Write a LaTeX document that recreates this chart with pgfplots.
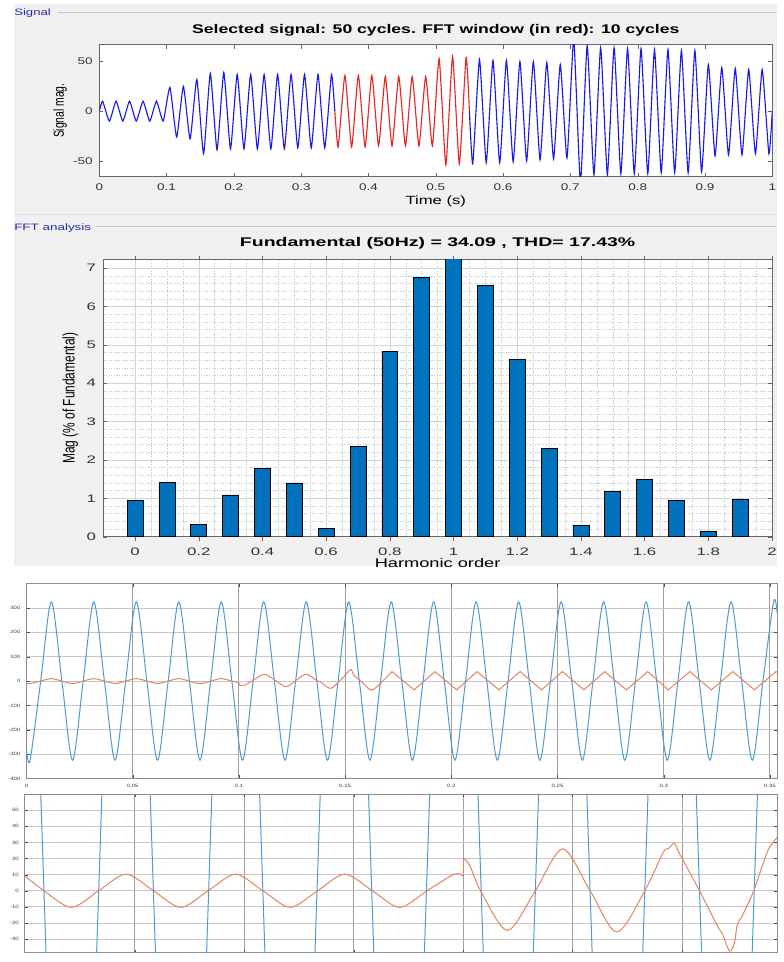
\documentclass[border=0pt]{standalone}
\usepackage{fontspec}
\setmainfont{Liberation Sans}
\usepackage{pgfplots}
\pgfplotsset{compat=1.18}
\definecolor{mgrey}{RGB}{240,240,240}
\definecolor{barblue}{RGB}{0,114,189}
\definecolor{sigblue}{RGB}{25,25,235}
\definecolor{sigred}{RGB}{235,35,35}
\definecolor{lblue}{RGB}{75,155,210}
\definecolor{lorange}{RGB}{228,132,92}
\definecolor{labblue}{RGB}{40,40,170}
\pgfplotsset{mat/.style={scale only axis, anchor=south west,
  axis background/.style={fill=white}, tick align=inside,
  /pgf/number format/assume math mode=true,
  axis line style={black!60}, tick style={black!60}}}
\begin{document}
\begin{tikzpicture}
\fill[white] (0pt,0pt) rectangle (587.25pt,-721.5pt);
\fill[mgrey] (10.5pt,-3pt) rectangle (587.25pt,-428pt);
\draw[black!12, line width=0.6pt] (10.5pt,-161.8pt) -- (587.25pt,-161.8pt);
\node[anchor=base west, inner sep=0, text=labblue, font=\fontsize{7}{8}\selectfont, xscale=1.42] at (10.5pt,-12pt) {Signal};
\draw[black!22] (43.5pt,-9.5pt) -- (587.25pt,-9.5pt);
\node[anchor=base west, inner sep=0, text=labblue, font=\fontsize{7}{8}\selectfont, xscale=1.45] at (10.5pt,-173.8pt) {FFT analysis};
\draw[black!22] (72.5pt,-171.2pt) -- (587.25pt,-171.2pt);

% ---------------- Panel 1: signal
\begin{axis}[mat, at={(75pt,-133.5pt)}, width=508.5pt, height=99.75pt,
  xmin=0, xmax=1, ymin=-66, ymax=67,
  xtick={0,0.1,0.2,0.3,0.4,0.5,0.6,0.7,0.8,0.9,1},
  xticklabels={0,0.1,0.2,0.3,0.4,0.5,0.6,0.7,0.8,0.9,1},
  ytick={-50,0,50}, yticklabels={-50,0,50},
  major tick length=3pt,
  tick label style={font=\fontsize{7.3}{8}\selectfont, text=black!80, xscale=1.4},
  xticklabel style={anchor=base, yshift=-10.3pt},
  title={Selected signal: 50 cycles. FFT window (in red): 10 cycles},
  title style={font=\bfseries\fontsize{9.5}{11}\selectfont, xscale=1.4, at={(axis description cs:0.5,1)}, anchor=base, yshift=2.5pt, inner sep=0},
  xlabel={Time (s)},
  xlabel style={font=\fontsize{9}{10}\selectfont, xscale=1.4, at={(axis description cs:0.5,0)}, anchor=base, yshift=-20.8pt, inner sep=0},
  ylabel={\scalebox{1}[1.4]{Signal mag.}},
  ylabel style={font=\fontsize{7.8}{9}\selectfont, at={(axis description cs:-0.058,0.5)}, anchor=center, inner sep=0}]
\addplot[sigblue, line width=0.85pt, smooth, tension=0.3] coordinates {
(0,0) (0.005,10) (0.015,-10) (0.025,10) (0.035,-10) (0.045,10) (0.055,-10) (0.065,10) (0.075,-10) (0.085,10) (0.095,-10)
(0.105,24) (0.115,-26) (0.125,25) (0.135,-28) (0.145,32) (0.155,-43) (0.165,38) (0.175,-39) (0.185,39) (0.195,-38)
(0.205,37) (0.215,-38) (0.225,37) (0.235,-38) (0.245,37) (0.255,-38) (0.265,37) (0.275,-38) (0.285,37) (0.295,-37)
(0.305,37) (0.315,-37) (0.325,37) (0.335,-37) (0.345,37) (0.35,0)};
\addplot[sigred, line width=0.85pt, smooth, tension=0.3] coordinates {
(0.35,0) (0.355,-36) (0.365,36) (0.375,-36) (0.385,36) (0.395,-36) (0.405,36) (0.415,-35) (0.425,35) (0.435,-35)
(0.445,35) (0.455,-35) (0.465,35) (0.475,-35) (0.485,35) (0.495,-35) (0.505,53) (0.515,-54) (0.525,55) (0.535,-53)
(0.545,54) (0.55,0)};
\addplot[sigblue, line width=0.85pt, smooth, tension=0.3] coordinates {
(0.55,0) (0.555,-53) (0.565,52) (0.575,-52) (0.585,51) (0.595,-52) (0.605,51) (0.615,-51) (0.625,50) (0.635,-50)
(0.645,50) (0.655,-49) (0.665,49) (0.675,-48) (0.685,47) (0.695,-47) (0.705,72) (0.715,-72) (0.725,66) (0.735,-64)
(0.745,64) (0.755,-64) (0.765,64) (0.775,-63) (0.785,63) (0.795,-63) (0.805,63) (0.815,-63) (0.825,62) (0.835,-62)
(0.845,62) (0.855,-62) (0.865,61) (0.875,-62) (0.885,61) (0.895,-61) (0.905,47) (0.915,-45) (0.925,44) (0.935,-44)
(0.945,43) (0.955,-44) (0.965,42) (0.975,-43) (0.985,42) (0.995,-43) (1,0)};
\end{axis}

% ---------------- Panel 2: FFT
\begin{axis}[mat, at={(78pt,-405.5pt)}, width=505.3pt, height=209.25pt,
  xmin=-0.1, xmax=2, ymin=0, ymax=7.22,
  xtick={0,0.2,0.4,0.6,0.8,1,1.2,1.4,1.6,1.8,2},
  xticklabels={0,0.2,0.4,0.6,0.8,1,1.2,1.4,1.6,1.8,2},
  ytick={0,1,2,3,4,5,6,7}, yticklabels={0,1,2,3,4,5,6,7},
  minor x tick num=3, minor y tick num=4, grid=both,
  major grid style={black!17}, minor grid style={black!20, dash pattern=on 1pt off 1pt},
  major tick length=3pt, minor tick length=0pt,
  tick label style={font=\fontsize{8.2}{9}\selectfont, text=black!80, xscale=1.55},
  xticklabel style={anchor=base, yshift=-11.5pt},
  title={Fundamental (50Hz) = 34.09 , THD= 17.43\%},
  title style={font=\bfseries\fontsize{9.5}{11}\selectfont, xscale=1.55, at={(axis description cs:0.5,1)}, anchor=base, yshift=3.75pt, inner sep=0},
  xlabel={Harmonic order},
  xlabel style={font=\fontsize{9.5}{11}\selectfont, xscale=1.45, at={(axis description cs:0.5,0)}, anchor=base, yshift=-23pt, inner sep=0},
  ylabel={\scalebox{1}[1.4]{Mag (\% of Fundamental)}},
  ylabel style={font=\fontsize{9}{10}\selectfont, at={(axis description cs:-0.0494,0.5)}, anchor=center, inner sep=0},
  ybar, bar width=0.05]
\addplot[fill=barblue, draw=black, line width=0.5pt] coordinates {
(0,0.95) (0.1,1.41) (0.2,0.32) (0.3,1.09) (0.4,1.79) (0.5,1.40) (0.6,0.21) (0.7,2.36) (0.8,4.83) (0.9,6.75)
(1.0,7.6) (1.1,6.55) (1.2,4.63) (1.3,2.31) (1.4,0.29) (1.5,1.17) (1.6,1.50) (1.7,0.94) (1.8,0.15) (1.9,0.98)};
\end{axis}

% ---------------- Panel 3
\begin{axis}[mat, at={(20pt,-588.2pt)}, width=567.2pt, height=147.2pt,
  xmin=0, xmax=0.3534, ymin=-400, ymax=400,
  xtick={0,0.05,0.1,0.15,0.2,0.25,0.3,0.35},
  xticklabels={0,0.05,0.1,0.15,0.2,0.25,0.3,0.35},
  ytick={-400,-300,-200,-100,0,100,200,300},
  yticklabels={-400,-300,-200,-100,0,100,200,300},
  grid=major, major x grid style={black!38, line width=0.7pt}, major y grid style={black!22, line width=0.6pt},
  axis line style={black!45, line width=0.7pt}, major tick length=2.5pt, tick style={black!70},
  tick label style={font=\fontsize{3.5}{4}\selectfont, text=black!75, xscale=1.3},
  xticklabel style={anchor=base, yshift=-6.5pt}]
\addplot[lblue, line width=0.75pt, smooth] coordinates {
(0,-280) (0.0017,-325) (0.0067,0) (0.0117,325) (0.0167,0)
(0.0217,-325) (0.0267,0) (0.0317,325) (0.0367,0)
(0.0417,-325) (0.0467,0) (0.0517,325) (0.0567,0)
(0.0617,-325) (0.0667,0) (0.0717,325) (0.0767,0)
(0.0817,-325) (0.0867,0) (0.0917,325) (0.0967,0)
(0.1017,-325) (0.1067,0) (0.1117,325) (0.1167,0)
(0.1217,-325) (0.1267,0) (0.1317,325) (0.1367,0)
(0.1417,-325) (0.1467,0) (0.1517,325) (0.1567,0)
(0.1617,-325) (0.1667,0) (0.1717,325) (0.1767,0)
(0.1817,-325) (0.1867,0) (0.1917,325) (0.1967,0)
(0.2017,-325) (0.2067,0) (0.2117,325) (0.2167,0)
(0.2217,-325) (0.2267,0) (0.2317,325) (0.2367,0)
(0.2417,-325) (0.2467,0) (0.2517,325) (0.2567,0)
(0.2617,-325) (0.2667,0) (0.2717,325) (0.2767,0)
(0.2817,-325) (0.2867,0) (0.2917,325) (0.2967,0)
(0.3017,-325) (0.3067,0) (0.3117,325) (0.3167,0)
(0.3217,-325) (0.3267,0) (0.3317,325) (0.3367,0)
(0.3417,-325) (0.3467,0) (0.3517,325) (0.3534,280)};
\addplot[lorange, line width=0.75pt, smooth] coordinates {
(0,-8.6) (0.0017,-10) (0.0067,0) (0.0117,10) (0.0167,0) (0.0217,-10) (0.0267,0) (0.0317,10) (0.0367,0)
(0.0417,-10) (0.0467,0) (0.0517,10) (0.0567,0) (0.0617,-10) (0.0667,0) (0.0717,10) (0.0767,0)
(0.0817,-10) (0.0867,0) (0.0917,10) (0.0967,0) (0.1,-7)};
\addplot[lorange, line width=0.75pt] coordinates {(0.1,-7) (0.1003,-17)};
\addplot[lorange, line width=0.75pt, smooth] coordinates {
(0.1003,-17) (0.103,-16) (0.1075,8) (0.1121,28) (0.117,4) (0.1222,-23) (0.127,4) (0.1316,28) (0.1365,4)
(0.1395,-10) (0.1433,-30) (0.148,5) (0.1526,47) (0.154,25) (0.158,-5) (0.1623,-37) (0.1665,-10) (0.1721,39)};
\addplot[lorange, line width=0.75pt] coordinates {
(0.1721,39) (0.1825,-36) (0.1923,39) (0.2025,-36) (0.2121,39) (0.2224,-36) (0.2324,39) (0.2425,-36)
(0.2523,39) (0.2624,-36) (0.2722,39) (0.2824,-36) (0.2925,39) (0.3021,-36) (0.3123,39) (0.3224,-36)
(0.3325,39) (0.3427,-36) (0.3528,39) (0.3534,37)};
\end{axis}

% ---------------- Panel 4
\begin{axis}[mat, at={(18.75pt,-720pt)}, width=568.5pt, height=120pt,
  xmin=0.0199, xmax=0.1574, ymin=-38.6, ymax=60,
  xtick={0.04,0.06,0.08,0.1,0.12,0.14}, xticklabels={},
  ytick={-30,-20,-10,0,10,20,30,40,50},
  yticklabels={-30,-20,-10,0,10,20,30,40,50},
  grid=major, major x grid style={black!38, line width=0.7pt}, major y grid style={black!22, line width=0.6pt},
  axis line style={black!45, line width=0.7pt}, major tick length=2.5pt, tick style={black!70},
  tick label style={font=\fontsize{3.5}{4}\selectfont, text=black!75, xscale=1.3}]
\addplot[lblue, line width=0.75pt] coordinates {
(0.0224,102) (0.0234,0) (0.0244,-102) (0.0324,-102) (0.0334,0) (0.0344,102)
(0.0424,102) (0.0434,0) (0.0444,-102) (0.0525,-102) (0.0535,0) (0.0545,102)
(0.0624,102) (0.0634,0) (0.0644,-102) (0.0723,-102) (0.0733,0) (0.0743,102)
(0.0823,102) (0.0833,0) (0.0843,-102) (0.0923,-102) (0.0933,0) (0.0943,102)
(0.1023,102) (0.1033,0) (0.1043,-102) (0.1122,-102) (0.1132,0) (0.1142,102)
(0.1222,102) (0.1232,0) (0.1242,-102) (0.1322,-102) (0.1332,0) (0.1342,102)
(0.1422,102) (0.1432,0) (0.1442,-102) (0.1522,-102) (0.1532,0) (0.1542,102)};
\addplot[lorange, line width=0.75pt, smooth] coordinates {
(0.0199,9.2) (0.0234,0) (0.0284,-10.3) (0.0334,0) (0.0384,10.3) (0.0434,0) (0.0484,-10.3) (0.0534,0)
(0.0584,10.3) (0.0634,0) (0.0684,-10.3) (0.0734,0) (0.0784,10.3) (0.0834,0) (0.0884,-10.3) (0.0934,0)
(0.0984,10.3) (0.1,9)};
\addplot[lorange, line width=0.75pt] coordinates {(0.1,9) (0.1,20.5)};
\addplot[lorange, line width=0.75pt, smooth] coordinates {
(0.1,20.5) (0.1012,15.8) (0.1032,0) (0.1081,-24.6) (0.1132,0) (0.1182,26) (0.1232,0) (0.1281,-25.6)
(0.1332,0) (0.1366,24) (0.1375,26) (0.1386,29.5) (0.1394,24) (0.1432,0) (0.1465,-22) (0.1474,-27)
(0.1487,-37.5) (0.1496,-32) (0.1501,-21) (0.1511,-15) (0.1531,0) (0.1557,25) (0.1574,33)};
\end{axis}
\end{tikzpicture}
\end{document}
